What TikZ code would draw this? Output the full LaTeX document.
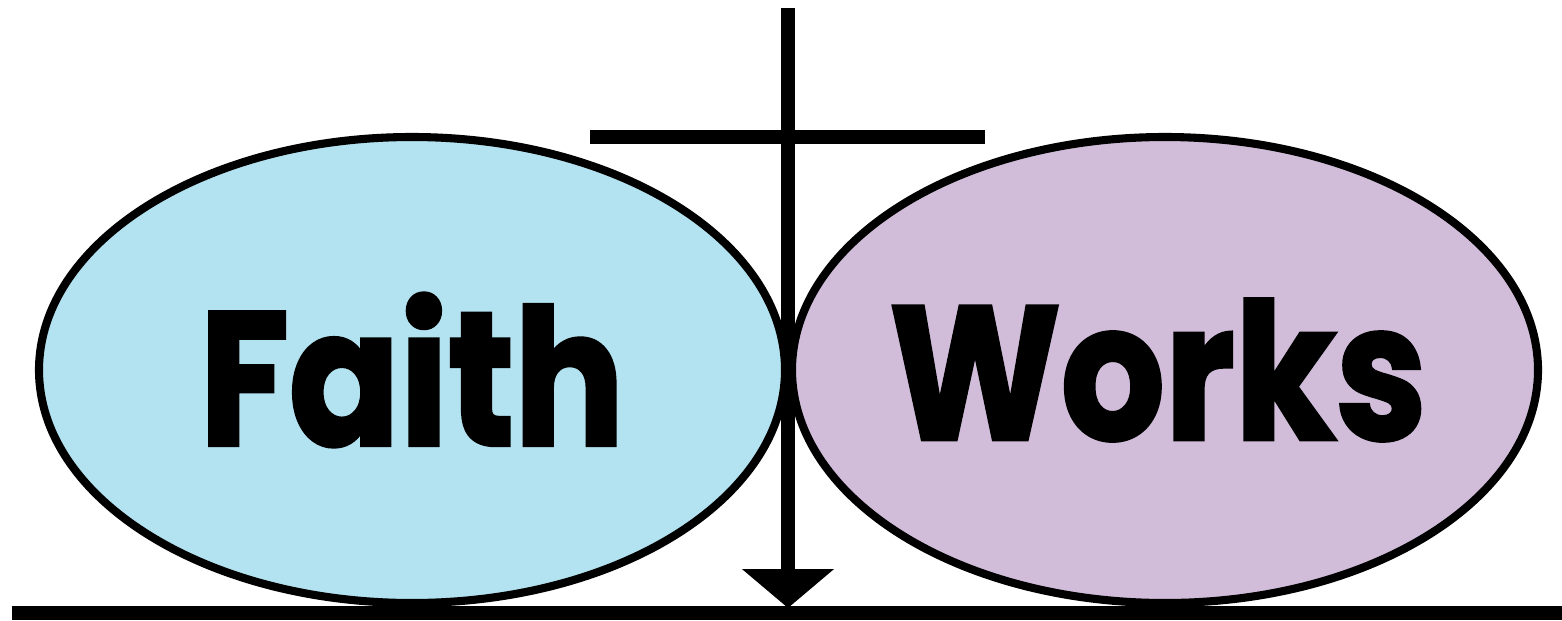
\documentclass[tikz,border=0pt]{standalone}
\usepackage{fontspec}
\newfontfamily\heavyfont{Poppins}[BoldFeatures={FakeBold=2}]
\usetikzlibrary{arrows.meta,shapes.geometric}
\definecolor{faithblue}{RGB}{179,227,241}
\definecolor{workspurple}{RGB}{209,189,218}
\tikzset{>=Stealth,bubble/.style={ellipse,draw,line width=2.3pt,inner sep=0pt,minimum width=7.46cm,minimum height=4.66cm},word/.style={xscale=.86,font=\heavyfont\bfseries\fontsize{54}{54}\selectfont},bar/.style={line width=4pt}}

\begin{document}
\begin{tikzpicture}
\useasboundingbox (0,0) rectangle (15.62,6.2);
\node[bubble,fill=faithblue] (faith) at (4.12,2.5){};\node[bubble,fill=workspurple] (works) at (11.65,2.5){};
\node[word] (faithtext) at ([yshift=0pt]faith.center){Faith};\node[word] (workstext) at ([xshift=-2pt]works.center){Works};
\coordinate (top) at (7.88,6.12);\coordinate (ground) at (7.88,0.12);
\coordinate (barl) at (5.90,4.83);\coordinate (barr) at (9.85,4.83);
\draw[bar] (barl)--(barr);
\draw[bar,-{Triangle[length=0.39cm,width=0.9cm,fill=black]}] (top)--(ground);
\draw[bar] (0.12,0.07)--(15.8,0.07);
\end{tikzpicture}
\end{document}
